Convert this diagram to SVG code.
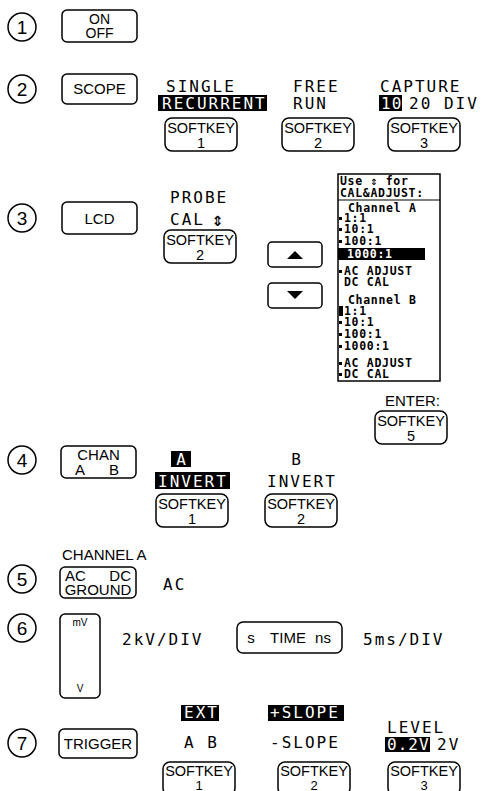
<svg xmlns="http://www.w3.org/2000/svg" width="485" height="791" viewBox="0 0 485 791">
<style>
.num{fill:none;stroke:#000;stroke-width:1.5}
.key{fill:none;stroke:#000;stroke-width:1.5}
.sans{font-family:"Liberation Sans",Arial,sans-serif;font-size:15px;fill:#000}
.mid{text-anchor:middle}
.end{text-anchor:end}
.lcd{font-family:"DejaVu Sans Mono","Liberation Mono",monospace;font-size:16px;letter-spacing:2px;fill:#000}
.lcdp{font-family:"DejaVu Sans Mono","Liberation Mono",monospace;font-size:11.5px;font-weight:bold;letter-spacing:0.7px;fill:#000}
.inv{fill:#000}
.w{fill:#fff}
.numt{font-family:"Liberation Sans",Arial,sans-serif;font-size:19px;text-anchor:middle;fill:#000}
.skt{font-family:"Liberation Sans",Arial,sans-serif;font-size:14.5px;text-anchor:middle;fill:#000}
.small{font-family:"Liberation Sans",Arial,sans-serif;font-size:10px;text-anchor:middle;fill:#000}
</style>
<defs>
<rect id="sk" width="72" height="33" rx="7" class="key"/>
</defs>
<rect width="485" height="791" fill="#fff"/>

<g id="step1">
  <g id="n1"><circle class="num" cx="22" cy="27" r="14"/><text class="numt" x="22" y="34">1</text></g>
  <g id="btn-onoff"><rect class="key" x="62" y="10" width="75" height="32" rx="5"/><text class="sans mid" x="99.5" y="24" style="font-size:14px">ON</text><text class="sans mid" x="99.5" y="38" style="font-size:14px">OFF</text></g>
</g>

<g id="step2">
  <g id="n2"><circle class="num" cx="22" cy="89" r="14"/><text class="numt" x="22" y="96">2</text></g>
  <g id="btn-scope"><rect class="key" x="62" y="74" width="75" height="30" rx="5"/><text class="sans mid" x="99.5" y="94">SCOPE</text></g>
  <g id="s2-opt1"><text class="lcd" x="166" y="92">SINGLE</text><rect class="inv" x="158" y="95" width="109" height="16"/><text class="lcd w" x="162" y="109">RECURRENT</text></g>
  <g id="s2-sk1"><use href="#sk" x="165" y="118"/><text class="skt" x="201" y="133">SOFTKEY</text><text class="skt" x="201" y="148">1</text></g>
  <g id="s2-opt2"><text class="lcd" x="293" y="92">FREE</text><text class="lcd" x="293" y="109">RUN</text></g>
  <g id="s2-sk2"><use href="#sk" x="282" y="118"/><text class="skt" x="318" y="133">SOFTKEY</text><text class="skt" x="318" y="148">2</text></g>
  <g id="s2-opt3"><text class="lcd" x="380" y="92">CAPTURE</text><rect class="inv" x="379" y="95" width="23" height="16"/><text class="lcd w" x="381" y="109" style="letter-spacing:1px">10</text><text class="lcd" x="409" y="109">20 DIV</text></g>
  <g id="s2-sk3"><use href="#sk" x="388" y="118"/><text class="skt" x="424" y="133">SOFTKEY</text><text class="skt" x="424" y="148">3</text></g>
</g>

<g id="step3">
  <g id="n3"><circle class="num" cx="22" cy="218" r="14"/><text class="numt" x="22" y="225">3</text></g>
  <g id="btn-lcd"><rect class="key" x="62" y="202" width="75" height="32" rx="5"/><text class="sans mid" x="99.5" y="224">LCD</text></g>
  <g id="s3-opt"><text class="lcd" x="170" y="203">PROBE</text><text class="lcd" x="170" y="225">CAL</text><text class="lcd" x="212" y="226" style="font-size:19px;font-weight:bold">⇕</text></g>
  <g id="s3-sk2"><use href="#sk" x="164" y="230"/><text class="skt" x="200" y="245">SOFTKEY</text><text class="skt" x="200" y="260">2</text></g>
  <g id="btn-up"><rect class="key" x="268" y="242" width="54" height="25" rx="4"/><polygon points="287,259 303,259 295,251" fill="#000"/></g>
  <g id="btn-down"><rect class="key" x="268" y="283" width="54" height="25" rx="4"/><polygon points="287,291 303,291 295,299" fill="#000"/></g>
  <g id="lcd-panel">
    <rect class="key" x="338" y="174" width="102" height="207"/>
    <text class="lcdp" x="340" y="185">Use ⇕ for</text>
    <text class="lcdp" x="340" y="197">CAL&amp;ADJUST:</text>
    <line x1="338" y1="200" x2="440" y2="200" stroke="#000" stroke-width="1.2"/>
    <text class="lcdp" x="348" y="212">Channel A</text>
    <rect class="inv" x="339" y="217" width="3" height="3"/><text class="lcdp" x="344" y="222">1:1</text>
    <rect class="inv" x="339" y="228" width="3" height="3"/><text class="lcdp" x="344" y="233">10:1</text>
    <rect class="inv" x="339" y="240" width="3" height="3"/><text class="lcdp" x="344" y="245">100:1</text>
    <rect class="inv" x="338" y="248" width="87" height="12"/><text class="lcdp w" x="347" y="258">1000:1</text>
    <rect class="inv" x="339" y="270" width="3" height="3"/><text class="lcdp" x="344" y="275">AC ADJUST</text>
    <text class="lcdp" x="344" y="286">DC CAL</text>
    <text class="lcdp" x="348" y="304">Channel B</text>
    <rect class="inv" x="339" y="306" width="4" height="10"/><text class="lcdp" x="344" y="315">1:1</text>
    <rect class="inv" x="339" y="321" width="3" height="3"/><text class="lcdp" x="344" y="326">10:1</text>
    <rect class="inv" x="339" y="333" width="3" height="3"/><text class="lcdp" x="344" y="338">100:1</text>
    <rect class="inv" x="339" y="345" width="3" height="3"/><text class="lcdp" x="344" y="350">1000:1</text>
    <rect class="inv" x="339" y="362" width="3" height="3"/><text class="lcdp" x="344" y="367">AC ADJUST</text>
    <rect class="inv" x="339" y="373" width="3" height="3"/><text class="lcdp" x="344" y="378">DC CAL</text>
  </g>
  <g id="s3-enter"><text class="sans" x="385" y="406">ENTER:</text></g>
  <g id="s3-sk5"><use href="#sk" x="375" y="411"/><text class="skt" x="411" y="426">SOFTKEY</text><text class="skt" x="411" y="441">5</text></g>
</g>

<g id="step4">
  <g id="n4"><circle class="num" cx="22" cy="460" r="14"/><text class="numt" x="22" y="467">4</text></g>
  <g id="btn-chan"><rect class="key" x="61" y="446" width="75" height="32" rx="5"/><text class="sans mid" x="98.5" y="460">CHAN</text><text class="sans mid" x="80" y="475">A</text><text class="sans mid" x="114" y="475">B</text></g>
  <g id="s4-opt1"><rect class="inv" x="171" y="451" width="20" height="16"/><text class="lcd w mid" x="182" y="465">A</text><rect class="inv" x="155" y="472" width="75" height="17"/><text class="lcd w" x="158" y="487">INVERT</text></g>
  <g id="s4-sk1"><use href="#sk" x="156" y="494"/><text class="skt" x="192" y="509">SOFTKEY</text><text class="skt" x="192" y="524">1</text></g>
  <g id="s4-opt2"><text class="lcd mid" x="297" y="465">B</text><text class="lcd" x="267" y="487">INVERT</text></g>
  <g id="s4-sk2"><use href="#sk" x="265" y="494"/><text class="skt" x="301" y="509">SOFTKEY</text><text class="skt" x="301" y="524">2</text></g>
</g>

<g id="step5">
  <g id="s5-title"><text class="sans" x="62" y="560">CHANNEL A</text></g>
  <g id="n5"><circle class="num" cx="22" cy="579" r="14"/><text class="numt" x="22" y="586">5</text></g>
  <g id="btn-acdc"><rect class="key" x="60" y="567" width="76" height="31" rx="5"/><text class="sans" x="65" y="581">AC</text><text class="sans end" x="131" y="581">DC</text><text class="sans mid" x="98" y="595">GROUND</text></g>
  <g id="s5-val"><text class="lcd" x="163" y="590">AC</text></g>
</g>

<g id="step6">
  <g id="n6"><circle class="num" cx="22" cy="628" r="14"/><text class="numt" x="22" y="635">6</text></g>
  <g id="btn-volt"><rect class="key" x="60" y="614" width="40" height="84" rx="5"/><text class="small" x="80" y="626">mV</text><text class="small" x="80" y="692">V</text></g>
  <g id="s6-volt"><text class="lcd" x="122" y="645">2kV/DIV</text></g>
  <g id="btn-time"><rect class="key" x="237" y="622" width="105" height="31" rx="6"/><text class="sans mid" x="251" y="643">s</text><text class="sans mid" x="288" y="643">TIME</text><text class="sans mid" x="323" y="643">ns</text></g>
  <g id="s6-time"><text class="lcd" x="363" y="645">5ms/DIV</text></g>
</g>

<g id="step7">
  <g id="n7"><circle class="num" cx="22" cy="743" r="14"/><text class="numt" x="22" y="750">7</text></g>
  <g id="btn-trigger"><rect class="key" x="59" y="729" width="78" height="29" rx="5"/><text class="sans mid" x="98" y="749">TRIGGER</text></g>
  <g id="s7-opt1"><rect class="inv" x="181" y="705" width="38" height="16"/><text class="lcd w" x="184" y="718">EXT</text><text class="lcd" x="184" y="748">A B</text></g>
  <g id="s7-sk1"><use href="#sk" x="163" y="762"/><text class="skt" x="199" y="776">SOFTKEY</text><text class="skt" x="199" y="790" style="font-size:13px">1</text></g>
  <g id="s7-opt2"><rect class="inv" x="268" y="705" width="76" height="16"/><text class="lcd w" x="270" y="718">+SLOPE</text><text class="lcd" x="270" y="748">-SLOPE</text></g>
  <g id="s7-sk2"><use href="#sk" x="278" y="762"/><text class="skt" x="314" y="776">SOFTKEY</text><text class="skt" x="314" y="790" style="font-size:13px">2</text></g>
  <g id="s7-opt3"><text class="lcd" x="387" y="733">LEVEL</text><rect class="inv" x="385" y="737" width="45" height="15"/><text class="lcd w" x="387" y="750" style="letter-spacing:1px">0.2V</text><text class="lcd" x="437" y="750">2V</text></g>
  <g id="s7-sk3"><use href="#sk" x="388" y="762"/><text class="skt" x="424" y="776">SOFTKEY</text><text class="skt" x="424" y="790" style="font-size:13px">3</text></g>
</g>

<g id="connectors"></g>
</svg>
